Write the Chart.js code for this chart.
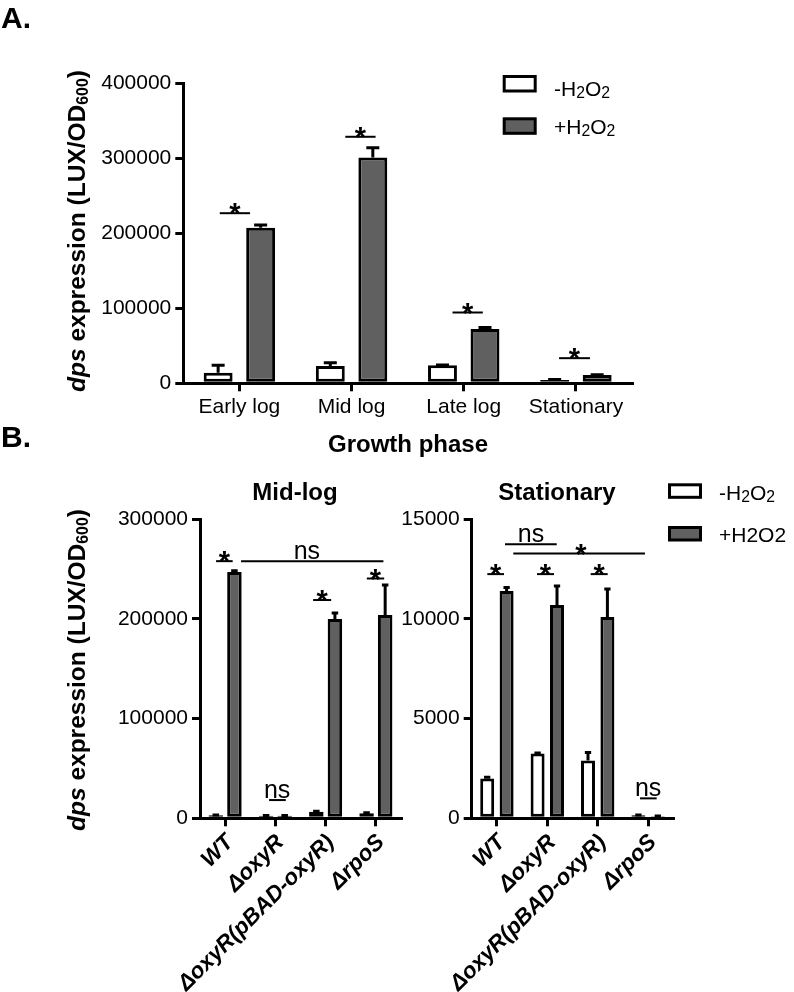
<!DOCTYPE html>
<html>
<head>
<meta charset="utf-8">
<script src="https://cdn.jsdelivr.net/npm/chart.js@4.4.1/dist/chart.umd.min.js"></script>
<style>
  html, body { margin: 0; padding: 0; background: #fff; }
  #page { position: relative; width: 794px; height: 992px; }
  #page canvas { position: absolute; left: 0; top: 0; }
</style>
</head>
<body>
<div id="page">
  <canvas id="chart-a" width="794" height="992"></canvas>
  <canvas id="chart-mid" width="794" height="992"></canvas>
  <canvas id="chart-stat" width="794" height="992"></canvas>
</div>
<script>
// panel A: growth phase
const phaseLabels = ['Early log', 'Mid log', 'Late log', 'Stationary'];
const phaseMinus = [14000, 23000, 24000, 4500];
const phaseMinusErr = [10000, 4500, 500, 500];
const phasePlus = [207500, 301000, 72300, 11200];
const phasePlusErr = [3500, 13000, 2000, 300];
const phaseTicks = [0, 100000, 200000, 300000, 400000];

// panel B: strains
const strainLabels = ['WT', 'ΔoxyR', 'ΔoxyR(pBAD-oxyR)', 'ΔrpoS'];
const midMinus = [3000, 2500, 6500, 5000];
const midMinusErr = [300, 300, 500, 500];
const midPlus = [247000, 2500, 200000, 204000];
const midPlusErr = [1500, 300, 6000, 30000];
const midTicks = [0, 100000, 200000, 300000];
const statMinus = [2000, 3250, 2900, 150];
const statMinusErr = [60, 30, 400, 20];
const statPlus = [11400, 10700, 10100, 100];
const statPlusErr = [180, 950, 1400, 20];
const statTicks = [0, 5000, 10000, 15000];

// significance marks: [from, to] in category index units, height, label, label position
const sigPhase = [
    [-0.175, 0.095, 226800, '*'],
    [0.944, 1.214, 328700, '*'],
    [1.9, 2.17, 94400, '*'],
    [2.85, 3.125, 33500, '*'],
];
const sigMid = [
    [-0.18, 0.15, 258000, '*'],
    [0.317, 3.15, 258000, 'ns', 1.626],
    [0.875, 1.207, 18300, 'ns', 1.034],
    [1.751, 2.11, 219000, '*'],
    [2.82, 3.165, 240600, '*'],
];
const sigStat = [
    [-0.19, 0.141, 12250, '*'],
    [0.796, 1.133, 12250, '*'],
    [1.861, 2.198, 12250, '*'],
    [0.161, 1.187, 13750, 'ns', 0.677],
    [0.325, 2.938, 13280, '*', 1.669],
    [2.84, 3.17, 1000, 'ns', 3.0],
];

const FAMILY = "'Liberation Sans', Arial, sans-serif";
const GRAY = '#606060';

// "*x*" -> italic, "_600" -> subscript
function parseRich(s) {
    const parts = [];
    let italic = false;
    s.split(/(\*|_\d+)/).forEach(tok => {
        if (!tok) return;
        if (tok === '*') { italic = !italic; return; }
        if (tok[0] === '_') parts.push({ t: tok.slice(1), i: italic, sub: true });
        else parts.push({ t: tok, i: italic });
    });
    return parts;
}

function drawRich(ctx, text, x, y, size, opt) {
    const parts = parseRich(text);
    const weight = opt.bold ? 'bold ' : '';
    const fontOf = p => (p.i ? 'italic ' : '') + weight + (p.sub ? size * opt.subScale : size) + 'px ' + FAMILY;
    let w = 0;
    parts.forEach(p => { ctx.font = fontOf(p); p.w = ctx.measureText(p.t).width; w += p.w; });
    let cx = opt.align === 'center' ? x - w / 2 : x;
    ctx.textAlign = 'left';
    ctx.textBaseline = 'alphabetic';
    parts.forEach(p => {
        ctx.font = fontOf(p);
        ctx.fillText(p.t, cx, y + (p.sub ? size * opt.subDrop : 0));
        cx += p.w;
    });
}

function drawErrors(chart, errs, capFrac) {
    const ctx = chart.ctx, ys = chart.scales.y;
    ctx.strokeStyle = '#000';
    ctx.lineWidth = 3;
    chart.data.datasets.forEach((ds, di) => {
        chart.getDatasetMeta(di).data.forEach((bar, i) => {
            const top = ys.getPixelForValue(ds.data[i] + errs[di][i]);
            const half = bar.width * capFrac / 2;
            ctx.beginPath();
            ctx.moveTo(bar.x, bar.y);
            ctx.lineTo(bar.x, top);
            ctx.moveTo(bar.x - half, top);
            ctx.lineTo(bar.x + half, top);
            ctx.stroke();
        });
    });
}

function drawSig(chart, marks) {
    const ctx = chart.ctx, xs = chart.scales.x, ys = chart.scales.y;
    const n = chart.data.labels.length;
    const px = c => xs.left + (c + 0.5) * xs.width / n;
    ctx.strokeStyle = '#000';
    ctx.fillStyle = '#000';
    ctx.lineWidth = 2;
    ctx.textAlign = 'center';
    ctx.textBaseline = 'alphabetic';
    marks.forEach(([from, to, val, label, at]) => {
        const yy = ys.getPixelForValue(val);
        ctx.beginPath();
        ctx.moveTo(px(from), yy);
        ctx.lineTo(px(to), yy);
        ctx.stroke();
        const lx = px(at === undefined ? (from + to) / 2 : at);
        if (label === '*') {
            ctx.font = 'bold 29px ' + FAMILY;
            ctx.fillText('*', lx, yy + 10);
        } else {
            ctx.font = '25px ' + FAMILY;
            ctx.fillText(label, lx, yy - 2);
        }
    });
}

function drawLegend(chart, lg) {
    const ctx = chart.ctx;
    chart.data.datasets.forEach((ds, i) => {
        const top = lg.rows[i];
        ctx.fillStyle = '#000';
        ctx.fillRect(lg.x, top, lg.w, lg.h);
        ctx.fillStyle = ds.backgroundColor;
        ctx.fillRect(lg.x + 3, top + 3, lg.w - 6, lg.h - 6);
        ctx.fillStyle = '#000';
        drawRich(ctx, ds.label, lg.textX, lg.baselines[i], 21, { subScale: 0.75, subDrop: 0.1 });
    });
}

const decor = {
    id: 'decor',
    afterDatasetsDraw(chart, args, o) {
        const ctx = chart.ctx;
        ctx.save();
        drawErrors(chart, o.errors, o.capFrac);
        drawSig(chart, o.sig);
        ctx.fillStyle = '#000';
        if (o.letter) {
            ctx.font = 'bold 30px ' + FAMILY;
            ctx.textAlign = 'left';
            ctx.textBaseline = 'alphabetic';
            ctx.fillText(o.letter[0], o.letter[1], o.letter[2]);
        }
        if (o.yTitle) {
            ctx.save();
            ctx.translate(o.yTitle[0], o.yTitle[1]);
            ctx.rotate(-Math.PI / 2);
            drawRich(ctx, '*dps* expression (LUX/OD_600)', 0, 0, 24.5,
                { bold: true, align: 'center', subScale: 0.65, subDrop: 0.12 });
            ctx.restore();
        }
        if (o.title) {
            ctx.font = 'bold 24px ' + FAMILY;
            ctx.textAlign = 'center';
            ctx.textBaseline = 'alphabetic';
            ctx.fillText(o.title[0], o.title[1], o.title[2]);
        }
        if (o.legend) drawLegend(chart, o.legend);
        ctx.restore();
    }
};

function barChart(id, cfg) {
    const tickFont = { family: FAMILY, size: 21 };
    return new Chart(document.getElementById(id), {
        type: 'bar',
        data: {
            labels: cfg.labels,
            datasets: [
                { label: cfg.names[0], data: cfg.minus, backgroundColor: '#ffffff' },
                { label: cfg.names[1], data: cfg.plus, backgroundColor: GRAY },
            ].map(ds => Object.assign(ds, {
                borderColor: '#000', borderWidth: 3, borderSkipped: false,
                categoryPercentage: cfg.catPct, barPercentage: cfg.barPct,
            }))
        },
        options: {
            responsive: false,
            devicePixelRatio: 1,
            animation: false,
            events: [],
            layout: { padding: cfg.padding },
            plugins: {
                legend: { display: false },
                tooltip: { enabled: false },
                decor: cfg.decor,
            },
            scales: {
                x: {
                    offset: true,
                    border: { display: true, color: '#000', width: 3 },
                    grid: { display: true, drawOnChartArea: false, offset: false, tickLength: 8, color: '#000', lineWidth: 3 },
                    ticks: Object.assign({ color: '#000', autoSkip: false, padding: 3 }, cfg.xTicks),
                    afterFit: s => { s.height = cfg.xHeight; },
                },
                y: {
                    min: 0,
                    max: cfg.yTicks[cfg.yTicks.length - 1],
                    border: { display: true, color: '#000', width: 3 },
                    grid: { display: true, drawOnChartArea: false, tickLength: 8, color: '#000', lineWidth: 3 },
                    ticks: { color: '#000', font: tickFont, padding: 4, callback: v => String(v) },
                    afterBuildTicks: s => { s.ticks = cfg.yTicks.map(v => ({ value: v })); },
                    afterFit: s => { s.width = cfg.yWidth; },
                },
            },
        },
        plugins: [decor],
    });
}

const strainTicks = {
    font: { family: FAMILY, size: 22.5, weight: 'bold', style: 'italic' },
    minRotation: 45, maxRotation: 45, labelOffset: 5,
};

function initCharts() {
    barChart('chart-a', {
        labels: phaseLabels, minus: phaseMinus, plus: phasePlus,
        names: ['-H_2O_2', '+H_2O_2'],
        catPct: 0.758, barPct: 0.68,
        yTicks: phaseTicks, yWidth: 183.3, xHeight: 40,
        padding: { left: 0, top: 83.3, right: 162, bottom: 568.7 },
        xTicks: { font: { family: FAMILY, size: 21 }, maxRotation: 0 },
        decor: {
            errors: [phaseMinusErr, phasePlusErr], capFrac: 0.45, sig: sigPhase,
            letter: ['A.', 1, 28], yTitle: [85, 231],
            title: ['Growth phase', 408, 452],
            legend: { x: 502.7, rows: [75, 117.3], w: 34, h: 17.5, textX: 554, baselines: [96, 134] },
        },
    });

    barChart('chart-mid', {
        labels: strainLabels, minus: midMinus, plus: midPlus,
        names: ['-H_2O_2', '+H2O2'],
        catPct: 0.74, barPct: 0.78,
        yTicks: midTicks, yWidth: 200, xHeight: 173.7,
        padding: { left: 0, top: 519.3, right: 393, bottom: 0 },
        xTicks: strainTicks,
        decor: {
            errors: [midMinusErr, midPlusErr], capFrac: 0.45, sig: sigMid,
            letter: ['B.', 1, 447], yTitle: [85, 670],
            title: ['Mid-log', 295, 500],
        },
    });

    barChart('chart-stat', {
        labels: strainLabels, minus: statMinus, plus: statPlus,
        names: ['-H_2O_2', '+H2O2'],
        catPct: 0.77, barPct: 0.72,
        yTicks: statTicks, yWidth: 71.7, xHeight: 173.7,
        padding: { left: 400, top: 519.3, right: 120.7, bottom: 0 },
        xTicks: strainTicks,
        decor: {
            errors: [statMinusErr, statPlusErr], capFrac: 0.45, sig: sigStat,
            title: ['Stationary', 557, 500],
            legend: { x: 668, rows: [483.3, 526], w: 34, h: 15.5, textX: 719, baselines: [500, 541.7] },
        },
    });
}

window.addEventListener('load', initCharts);
</script>
</body>
</html>
